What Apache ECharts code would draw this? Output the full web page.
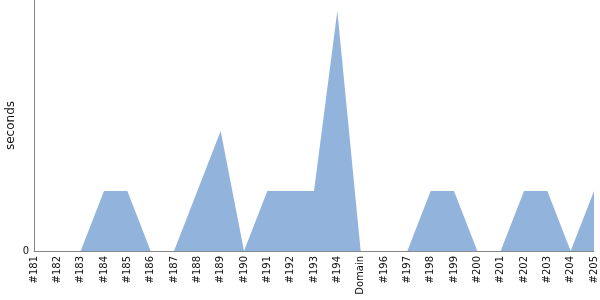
<!DOCTYPE html>
<html><head><meta charset="utf-8">
<script src="https://cdn.jsdelivr.net/npm/echarts@6/dist/echarts.min.js"></script>
<style>html,body{margin:0;padding:0;background:#fff}#c{width:600px;height:300px}</style>
</head><body><div id="c"></div>
<script>
const categories = ['#181','#182','#183','#184','#185','#186','#187','#188','#189','#190','#191','#192','#193','#194','Domain','#196','#197','#198','#199','#200','#201','#202','#203','#204','#205'];
const seconds = [0,0,0,1,1,0,0,1,2,0,1,1,1,4,0,0,0,1,1,0,0,1,1,0,1];
const yTicks = [0];
const chart = echarts.init(document.getElementById('c'), null, {renderer:'canvas'});
chart.setOption({
  animation:false,
  grid:{left:34,right:6,top:0,bottom:49,containLabel:false,outerBoundsMode:'none'},
  xAxis:{type:'category',data:categories,boundaryGap:false,
    axisLine:{lineStyle:{color:'#888',width:1}},axisTick:{show:false},
    axisLabel:{rotate:90,margin:5,fontSize:10,color:'#111',fontFamily:'DejaVu Sans',interval:0},
    splitLine:{show:false}},
  yAxis:{type:'value',min:0,max:4.1833,interval:100,name:'seconds',nameLocation:'middle',nameGap:17,
    nameMoveOverlap:false,
    nameTextStyle:{fontSize:12,color:'#111',fontFamily:'DejaVu Sans'},
    axisLine:{show:true,lineStyle:{color:'#888',width:1}},axisTick:{show:false},
    axisLabel:{fontSize:10,color:'#111',fontFamily:'DejaVu Sans',margin:5,
      formatter:v=>yTicks.includes(v)?String(v):''},
    splitLine:{show:false}},
  series:[{type:'line',data:seconds,symbol:'none',lineStyle:{width:0},
    areaStyle:{color:'#92b4dc',opacity:1}}]
});
</script></body></html>
